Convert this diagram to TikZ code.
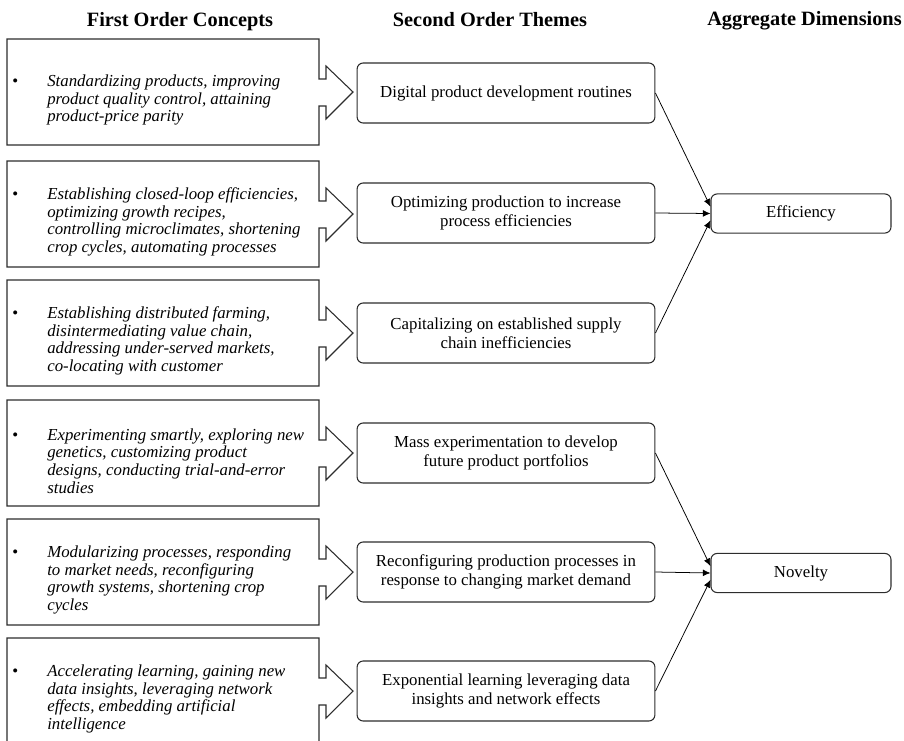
\documentclass[tikz,border=0pt]{standalone}
\usepackage{fontspec}
\setmainfont{Liberation Serif}
\usetikzlibrary{arrows.meta}
\definecolor{BoxLine}{RGB}{45,45,45}

\tikzset{
  head/.style={anchor=base,font=\fontsize{13.3}{16}\selectfont\bfseries},
  concept/.style={anchor=west,inner sep=0pt,align=left,font=\fontsize{11}{11.6}\selectfont\itshape},
  theme/.style={draw=BoxLine,line width=0.7pt,rounded corners=4pt,minimum width=68.5mm,minimum height=13.8mm,align=center,font=\fontsize{11}{12.3}\selectfont},
  dimension/.style={theme,minimum width=41.4mm,minimum height=9mm},
  link/.style={->,line width=0.5pt,black},
}
\newcommand{\bul}{\llap{\upshape\textbullet\hspace{6.7mm}}}

\begin{document}
\begin{tikzpicture}[x=0.23mm,y=-0.23mm,>={Latex[length=5pt,width=4.5pt]}]
  \useasboundingbox (0,0) rectangle (904,741);
  \clip (0,0) rectangle (904,741);
  % column headings
  \node[head] (h1) at (180,26) {First Order Concepts};
  \node[head] (h2) at (490,26) {Second Order Themes};
  \node[head] (h3) at (804.5,25) {Aggregate Dimensions};
  % first order boxes with arrow
  \foreach \t in {39,161,280,400,519,638}{
    \draw[BoxLine,line width=0.7pt] (7,\t) -- (319,\t) -- (319,\t+40) -- (326,\t+40)
      -- (326,\t+27) -- (353,\t+53) -- (326,\t+80) -- (326,\t+67) -- (319,\t+67)
      -- (319,\t+106) -- (7,\t+106) -- cycle;
  }
  \node[concept] (c1) at (47,100) {\bul Standardizing products, improving\\product quality control, attaining\\product-price parity};
  \node[concept] (c2) at (47,222) {\bul Establishing closed-loop efficiencies,\\optimizing growth recipes,\\controlling microclimates, shortening\\crop cycles, automating processes};
  \node[concept] (c3) at (47,341) {\bul Establishing distributed farming,\\disintermediating value chain,\\addressing under-served markets,\\co-locating with customer};
  \node[concept] (c4) at (47,461) {\bul Experimenting smartly, exploring new\\genetics, customizing product\\designs, conducting trial-and-error\\studies};
  \node[concept] (c5) at (47,580) {\bul Modularizing processes, responding\\to market needs, reconfiguring\\growth systems, shortening crop\\cycles};
  \node[concept] (c6) at (47,699) {\bul Accelerating learning, gaining new\\data insights, leveraging network\\effects, embedding artificial\\intelligence};
  % second order themes
  \node[theme] (t1) at (506,93) {Digital product development routines};
  \node[theme] (t2) at (506,213) {Optimizing production to increase\\process efficiencies};
  \node[theme] (t3) at (506,333) {Capitalizing on established supply\\chain inefficiencies};
  \node[theme] (t4) at (506,453) {Mass experimentation to develop\\future product portfolios};
  \node[theme] (t5) at (506,572) {Reconfiguring production processes in\\response to changing market demand};
  \node[theme] (t6) at (506,691) {Exponential learning leveraging data\\insights and network effects};
  % aggregate dimensions
  \node[dimension] (eff) at (801,213.5) {Efficiency};
  \node[dimension] (nov) at (801,573) {Novelty};
  \draw[link] (t1.east) -- ([yshift=4.5pt]eff.west);
  \draw[link] (t2.east) -- (eff.west);
  \draw[link] (t3.east) -- ([yshift=-4.5pt]eff.west);
  \draw[link] (t4.east) -- ([yshift=4.5pt]nov.west);
  \draw[link] (t5.east) -- (nov.west);
  \draw[link] (t6.east) -- ([yshift=-4.5pt]nov.west);
\end{tikzpicture}
\end{document}
